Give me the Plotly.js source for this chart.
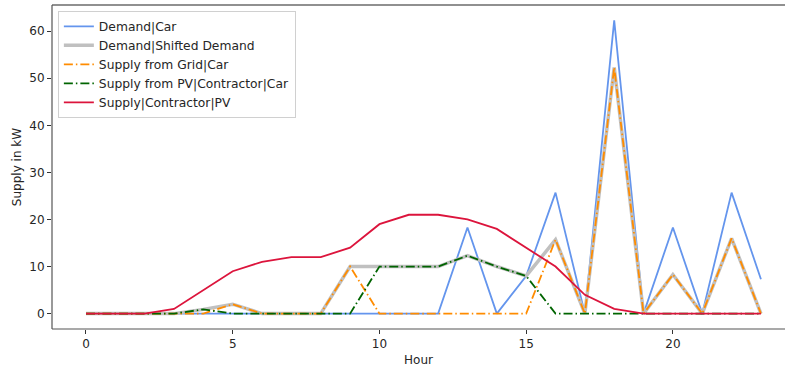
<!DOCTYPE html>
<html>
<head>
<meta charset="utf-8">
<script src="https://cdn.plot.ly/plotly-3.0.1.min.js"></script>
<style>html,body{margin:0;padding:0;background:#fff;}#chart{width:785px;height:368px;}</style>
</head>
<body>
<div id="chart"></div>
<script>
const hours = [0,1,2,3,4,5,6,7,8,9,10,11,12,13,14,15,16,17,18,19,20,21,22,23];
const demandCar     = [0,0,0,0,0,0,0,0,0,0,0,0,0,18.3,0,8,25.7,0,62.3,0,18.3,0,25.7,7.3];
const shiftedDemand = [0,0,0,0,0.9,2,0,0,0,10,10,10,10,12.3,10,8,15.7,0,52.3,0,8.3,0,16,0];
const gridCar       = [0,0,0,0,0,2,0,0,0,10,0,0,0,0,0,0,15.7,0,52.3,0,8.3,0,16,0];
const pvCar         = [0,0,0,0,0.9,0,0,0,0,0,10,10,10,12.3,10,8,0,0,0,0,0,0,0,0];
const pvSupply      = [0,0,0,1,5,9,11,12,12,14,19,21,21,20,18,14,10,4,1,0,0,0,0,0];
const names = ['Demand|Car','Demand|Shifted Demand','Supply from Grid|Car','Supply from PV|Contractor|Car','Supply|Contractor|PV'];

const dashdot = '9px,3px,1.5px,3px';
const traces = [
  {x: hours, y: demandCar, name: names[0], mode: 'lines', line: {color: '#6495ED', width: 1.8}},
  {x: hours, y: shiftedDemand, name: names[1], mode: 'lines', line: {color: '#C0C0C0', width: 3.5}},
  {x: hours, y: gridCar, name: names[2], mode: 'lines', line: {color: '#FF8C00', width: 1.8, dash: dashdot}},
  {x: hours, y: pvCar, name: names[3], mode: 'lines', line: {color: '#006400', width: 1.8, dash: dashdot}},
  {x: hours, y: pvSupply, name: names[4], mode: 'lines', line: {color: '#DC143C', width: 1.8}}
];

const font = {family: 'DejaVu Sans', size: 12, color: '#262626'};
const layout = {
  width: 785, height: 368,
  margin: {l: 52, r: 0, t: 5, b: 39},
  paper_bgcolor: '#fff', plot_bgcolor: '#fff',
  font: font,
  showlegend: true,
  legend: {x: 0.008, y: 0.982, xanchor: 'left', yanchor: 'top', bgcolor: 'rgba(255,255,255,0.8)',
           bordercolor: '#d0d0d0', borderwidth: 1, font: {family: 'DejaVu Sans', size: 12.3, color: '#262626'},
           tracegroupgap: 0, itemwidth: 30},
  xaxis: {range: [-1.158, 23.82], tickvals: [0,5,10,15,20], ticks: 'outside', ticklen: 4, tickcolor: '#333',
          showgrid: false, zeroline: false, showline: false,
          title: {text: 'Hour', font: {family: 'DejaVu Sans', size: 12, color: '#262626'}, standoff: 5}},
  yaxis: {range: [-3.27, 65.57], tickvals: [0,10,20,30,40,50,60], ticks: 'outside', ticklen: 4, tickcolor: '#333',
          showgrid: false, zeroline: false, showline: false,
          title: {text: 'Supply in kW', font: {family: 'DejaVu Sans', size: 12, color: '#262626'}, standoff: 5}},
  shapes: [
    {type: 'line', xref: 'paper', yref: 'paper', x0: 0, x1: 1, y0: 1, y1: 1, line: {color: '#222', width: 1.2}},
    {type: 'line', xref: 'paper', yref: 'paper', x0: 0, x1: 0, y0: 0, y1: 1, line: {color: '#555', width: 1.2}},
    {type: 'line', xref: 'paper', yref: 'paper', x0: 0, x1: 1, y0: 0, y1: 0, line: {color: '#555', width: 1.2}}
  ]
};
Plotly.newPlot('chart', traces, layout, {staticPlot: true, displayModeBar: false});
</script>
</body>
</html>
